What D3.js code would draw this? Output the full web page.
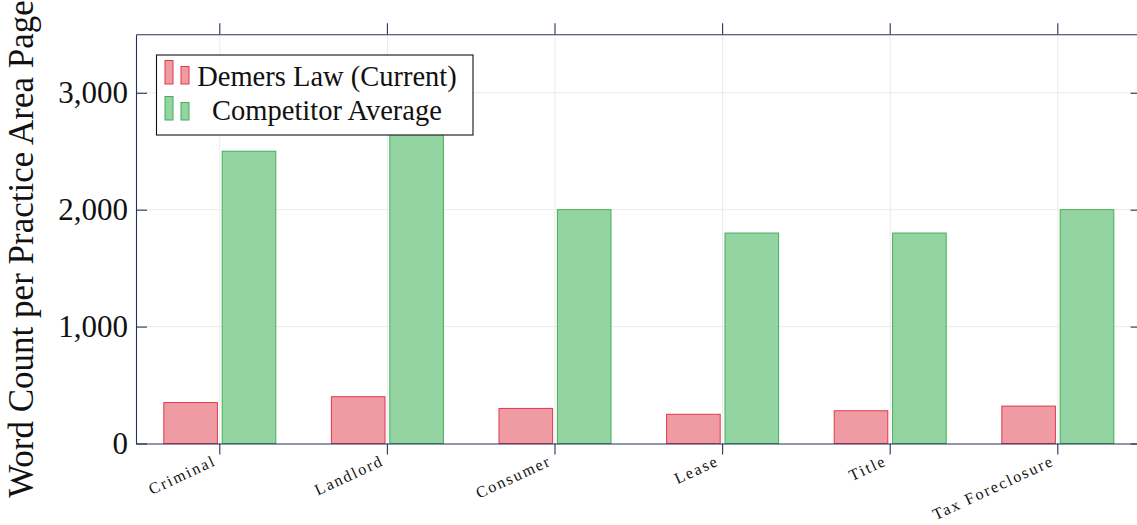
<!DOCTYPE html>
<html>
<head>
<meta charset="utf-8">
<script src="https://cdn.jsdelivr.net/npm/d3@7"></script>
<style>
  html, body { margin: 0; padding: 0; background: #fff; }
  svg { display: block; }
  text { font-family: "Liberation Serif", "Times New Roman", serif; fill: #111; }
</style>
</head>
<body>
<svg id="chart" width="1137" height="525"></svg>
<script>
const categories = ["Criminal", "Landlord", "Consumer", "Lease", "Title", "Tax Foreclosure"];
const seriesNames = ["Demers Law (Current)", "Competitor Average"];
const demersValues = [350, 400, 300, 250, 280, 320];
const competitorValues = [2500, 2800, 2000, 1800, 1800, 2000];
const yTicks = [0, 1000, 2000, 3000];
const yLabel = "Word Count per Practice Area Page";
const seriesFill = ["#ef9ba3", "#94d3a2"];
const seriesStroke = ["#e0384a", "#43b055"];

(function () {
const svg = d3.select("#chart");
const pLeft = 136, pRight = 1141.6, pTop = 34.3, pBottom = 443.5;
const axisColor = "#25315b";

const x = d3.scaleBand().domain(categories).range([pLeft, pRight]).paddingInner(0).paddingOuter(0);
const xs = d3.scaleBand().domain(seriesNames).range([-56, 56]).paddingInner(0.082);
const y = d3.scaleLinear().domain([0, 3500]).range([pBottom, pTop]);

// grid
const grid = svg.append("g");
grid.selectAll("line.h").data(yTicks.filter(d => d > 0)).enter().append("line")
  .attr("x1", pLeft).attr("x2", pRight).attr("y1", d => y(d)).attr("y2", d => y(d))
  .attr("stroke", "#ebebeb").attr("stroke-width", 1);
grid.selectAll("line.v").data(categories).enter().append("line")
  .attr("x1", d => x(d) + x.bandwidth() / 2).attr("x2", d => x(d) + x.bandwidth() / 2)
  .attr("y1", pTop).attr("y2", pBottom)
  .attr("stroke", "#ebebeb").attr("stroke-width", 1);

// bars
const rows = categories.map((c, i) => ({ c, vals: [demersValues[i], competitorValues[i]] }));
const gBars = svg.append("g");
rows.forEach(r => {
  r.vals.forEach((v, si) => {
    const cx = x(r.c) + x.bandwidth() / 2;
    gBars.append("rect")
      .attr("x", cx + xs(seriesNames[si]))
      .attr("y", y(v))
      .attr("width", xs.bandwidth())
      .attr("height", pBottom - y(v))
      .attr("fill", seriesFill[si])
      .attr("stroke", seriesStroke[si])
      .attr("stroke-width", 1);
  });
});

// axes frame
const gxb = svg.append("g").attr("transform", `translate(0,${pBottom})`).call(d3.axisBottom(x).tickSizeInner(11).tickSizeOuter(0).tickFormat(""));
const gxt = svg.append("g").attr("transform", `translate(0,${pTop})`).call(d3.axisTop(x).tickSizeInner(11).tickSizeOuter(0).tickFormat(""));
const gyl = svg.append("g").attr("transform", `translate(${pLeft},0)`).call(d3.axisLeft(y).tickValues(yTicks).tickSizeInner(-11).tickSizeOuter(0).tickFormat(""));
const gyr = svg.append("g").attr("transform", `translate(${pRight},0)`).call(d3.axisRight(y).tickValues(yTicks).tickSizeInner(-11).tickSizeOuter(0).tickFormat(""));
[gxb, gxt, gyl, gyr].forEach(g => {
  g.selectAll("path.domain").attr("stroke", axisColor).attr("stroke-width", 1.1);
  g.selectAll(".tick line").attr("stroke", axisColor).attr("stroke-width", 1.1);
});

// y tick labels
const fmt = d3.format(",");
svg.append("g").selectAll("text").data(yTicks).enter().append("text")
  .attr("x", 128).attr("y", d => y(d)).attr("dy", "0.34em")
  .attr("text-anchor", "end").style("font-size", "31px")
  .text(d => fmt(d));

// x tick labels
svg.append("g").selectAll("text").data(categories).enter().append("text")
  .attr("transform", d => `translate(${x(d) + x.bandwidth() / 2 - 5},${pBottom + 16}) rotate(-25)`)
  .attr("text-anchor", "end").attr("dy", "0.35em")
  .style("font-size", "16px").style("letter-spacing", "1.9px")
  .text(d => d);

// y label
svg.append("text")
  .attr("transform", `translate(33,249) rotate(-90)`)
  .attr("text-anchor", "middle")
  .style("font-size", "35px")
  .text(yLabel);

// legend
const lg = svg.append("g");
lg.append("rect").attr("x", 156.5).attr("y", 55).attr("width", 316.5).attr("height", 80)
  .attr("fill", "#fff").attr("stroke", "#111").attr("stroke-width", 1.1);
const legendRows = [{ y: 84, base: 85.7 }, { y: 120, base: 120 }];
seriesNames.forEach((s, i) => {
  const r = legendRows[i];
  lg.append("rect").attr("x", 165).attr("y", r.y - 23.5).attr("width", 8).attr("height", 23.5)
    .attr("fill", seriesFill[i]).attr("stroke", seriesStroke[i]).attr("stroke-width", 1);
  lg.append("rect").attr("x", 181).attr("y", r.y - 17.5).attr("width", 8).attr("height", 17.5)
    .attr("fill", seriesFill[i]).attr("stroke", seriesStroke[i]).attr("stroke-width", 1);
  lg.append("text").attr("x", 327).attr("y", r.base).attr("text-anchor", "middle")
    .style("font-size", "28.5px").text(s);
});
})();
</script>
</body>
</html>
